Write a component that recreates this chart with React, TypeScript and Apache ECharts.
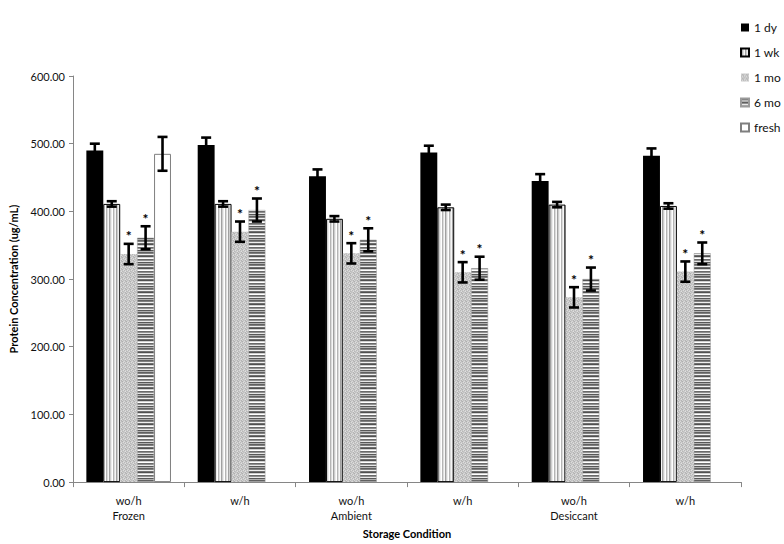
import React, { useEffect, useRef } from "react";
import * as echarts from "echarts";

const categories = ["wo/h\nFrozen", "w/h", "wo/h\nAmbient", "w/h", "wo/h\nDesiccant", "w/h"];
const seriesNames = ["1 dy", "1 wk", "1 mo", "6 mo", "fresh"];

const dy1 = [490, 498, 452, 487, 445, 482];
const dy1Err = [10, 11, 10, 10, 10, 11];
const wk1 = [411, 411, 389, 406, 410, 408];
const wk1Err = [4, 4, 4, 4, 4, 4];
const mo1 = [337, 370, 338, 310, 273, 311];
const mo1Err = [15, 15, 15, 15, 15, 15];
const mo6 = [361, 402, 358, 316, 300, 338];
const mo6Err = [17, 17, 17, 17, 17, 16];
const fresh = [485, null, null, null, null, null];
const freshErr = [25, null, null, null, null, null];

const dy1Sig = [false, false, false, false, false, false];
const wk1Sig = [false, false, false, false, false, false];
const mo1Sig = [true, true, true, true, true, true];
const mo6Sig = [true, true, true, true, true, true];
const freshSig = [false, false, false, false, false, false];

const yTicks = [0, 100, 200, 300, 400, 500, 600];

const FONT = "Lato, 'Open Sans', sans-serif";
const CAT_GAP = 0.24;

function makePattern(w: number, h: number, pix: (x: number, y: number) => string) {
  const c = document.createElement("canvas");
  c.width = w;
  c.height = h;
  const ctx = c.getContext("2d")!;
  for (let y = 0; y < h; y++) {
    for (let x = 0; x < w; x++) {
      ctx.fillStyle = pix(x, y);
      ctx.fillRect(x, y, 1, 1);
    }
  }
  return { image: c.toDataURL(), repeat: "repeat", imageWidth: w, imageHeight: h } as any;
}

export default function App() {
  const ref = useRef<HTMLDivElement>(null);

  useEffect(() => {
    if (!ref.current) return;
    const chart = echarts.init(ref.current, null, { renderer: "svg" });

    const wkCols = ["#ffffff", "#b4b4b4", "#dcdcdc", "#f6f6f6", "#a0a0a0", "#cdcdcd", "#ececec"];
    const wkPattern = makePattern(wkCols.length, 1, (x) => wkCols[x]);
    const stip = [
      ["#c8c8c8", "#b4b4b4", "#d4d4d4", "#c0c0c0"],
      ["#d8d8d8", "#bcbcbc", "#b0b0b0", "#d0d0d0"],
      ["#b8b8b8", "#d0d0d0", "#c4c4c4", "#dcdcdc"],
      ["#cccccc", "#e0e0e0", "#b8b8b8", "#c2c2c2"],
    ];
    const moPattern = makePattern(4, 4, (x, y) => stip[y][x]);
    const rows = ["#606060", "#808080", "#f0f0f0", "#707070", "#505050", "#d0d0d0", "#ffffff", "#6a6a6a", "#909090", "#e8e8e8", "#585858", "#b0b0b0"];
    const m6Pattern = makePattern(1, rows.length, (_x, y) => rows[y]);

    const vals = [dy1, wk1, mo1, mo6, fresh];
    const errs = [dy1Err, wk1Err, mo1Err, mo6Err, freshErr];
    const sigs = [dy1Sig, wk1Sig, mo1Sig, mo6Sig, freshSig];
    const styles = [
      { color: "#000000" },
      { color: wkPattern, borderColor: "#000", borderWidth: 1 },
      { color: moPattern },
      { color: m6Pattern, borderColor: "#9a9a9a", borderWidth: 0.5 },
      { color: "#ffffff", borderColor: "#7f7f7f", borderWidth: 1 },
    ];

    const errData: any[] = [];
    vals.forEach((arr, s) => {
      arr.forEach((v, c) => {
        if (v != null && errs[s][c] != null) errData.push([c, s, v, errs[s][c], sigs[s][c] ? 1 : 0]);
      });
    });

    const barSeries = seriesNames.map((name, s) => ({
      name,
      type: "bar",
      data: vals[s],
      barGap: "0%",
      barCategoryGap: CAT_GAP * 100 + "%",
      itemStyle: styles[s],
    }));

    const option: any = {
      animation: false,
      textStyle: { fontFamily: FONT },
      grid: { left: 67, right: 43, top: 76, bottom: 61 },
      legend: {
        orient: "vertical",
        left: 735,
        top: 15,
        itemWidth: 8,
        itemHeight: 8,
        itemGap: 10,
        icon: "rect",
        data: seriesNames,
        textStyle: { fontFamily: FONT, fontSize: 12, color: "#111", lineHeight: 15 },
      },
      xAxis: {
        type: "category",
        data: categories,
        name: "Storage Condition",
        nameLocation: "middle",
        nameGap: 41,
        nameTextStyle: { fontFamily: FONT, fontSize: 11, fontWeight: "bold", color: "#000" },
        axisLine: { lineStyle: { color: "#868686", width: 1 } },
        axisTick: { show: true, length: 5, alignWithLabel: false, lineStyle: { color: "#868686" } },
        axisLabel: { interval: 0, fontFamily: FONT, fontSize: 11, color: "#111", lineHeight: 15, margin: 11 },
        splitLine: { show: false },
      },
      yAxis: {
        type: "value",
        min: 0,
        max: 600,
        interval: 100,
        name: "Protein Concentration (ug/mL)",
        nameLocation: "middle",
        nameGap: 54,
        nameRotate: 90,
        nameTextStyle: { fontFamily: FONT, fontSize: 11, fontWeight: "bold", color: "#000" },
        axisLine: { show: true, lineStyle: { color: "#868686", width: 1 } },
        axisTick: { show: true, length: 4, inside: false, lineStyle: { color: "#868686" } },
        axisLabel: {
          fontFamily: FONT,
          fontSize: 11,
          color: "#111",
          margin: 8,
          formatter: (v: number) => (yTicks.includes(v) ? v.toFixed(2) : ""),
        },
        splitLine: { show: false },
      },
      series: [
        ...barSeries,
        {
          type: "custom",
          z: 10,
          silent: true,
          encode: { x: 0, y: 2 },
          data: errData,
          renderItem: (_params: any, api: any) => {
            const c = api.value(0);
            const s = api.value(1);
            const v = api.value(2);
            const e = api.value(3);
            const star = api.value(4);
            const center = api.coord([c, v]);
            const band = api.size([1, 0])[0];
            const total = band * (1 - CAT_GAP);
            const bw = total / 5;
            const x = center[0] - total / 2 + bw * (s + 0.5);
            const yTop = api.coord([c, v + e])[1];
            const yBot = api.coord([c, v - e])[1];
            const lw = 2.6;
            const cap = 5;
            const st = { stroke: "#000", lineWidth: lw };
            const children: any[] = [
              { type: "line", shape: { x1: x, y1: yTop, x2: x, y2: yBot }, style: st },
              { type: "line", shape: { x1: x - cap, y1: yTop, x2: x + cap, y2: yTop }, style: st },
              { type: "line", shape: { x1: x - cap, y1: yBot, x2: x + cap, y2: yBot }, style: st },
            ];
            if (star) {
              children.push({
                type: "text",
                x: x,
                y: yTop - 15,
                style: { text: "*", fill: "#000", fontSize: 14, fontWeight: "bold", fontFamily: FONT, align: "center", verticalAlign: "top" },
              });
            }
            return { type: "group", children };
          },
        },
      ],
    };

    chart.setOption(option);
    return () => chart.dispose();
  }, []);

  return <div ref={ref} style={{ position: "absolute", left: 0, top: 0, width: 784, height: 544, background: "#fff" }} />;
}
